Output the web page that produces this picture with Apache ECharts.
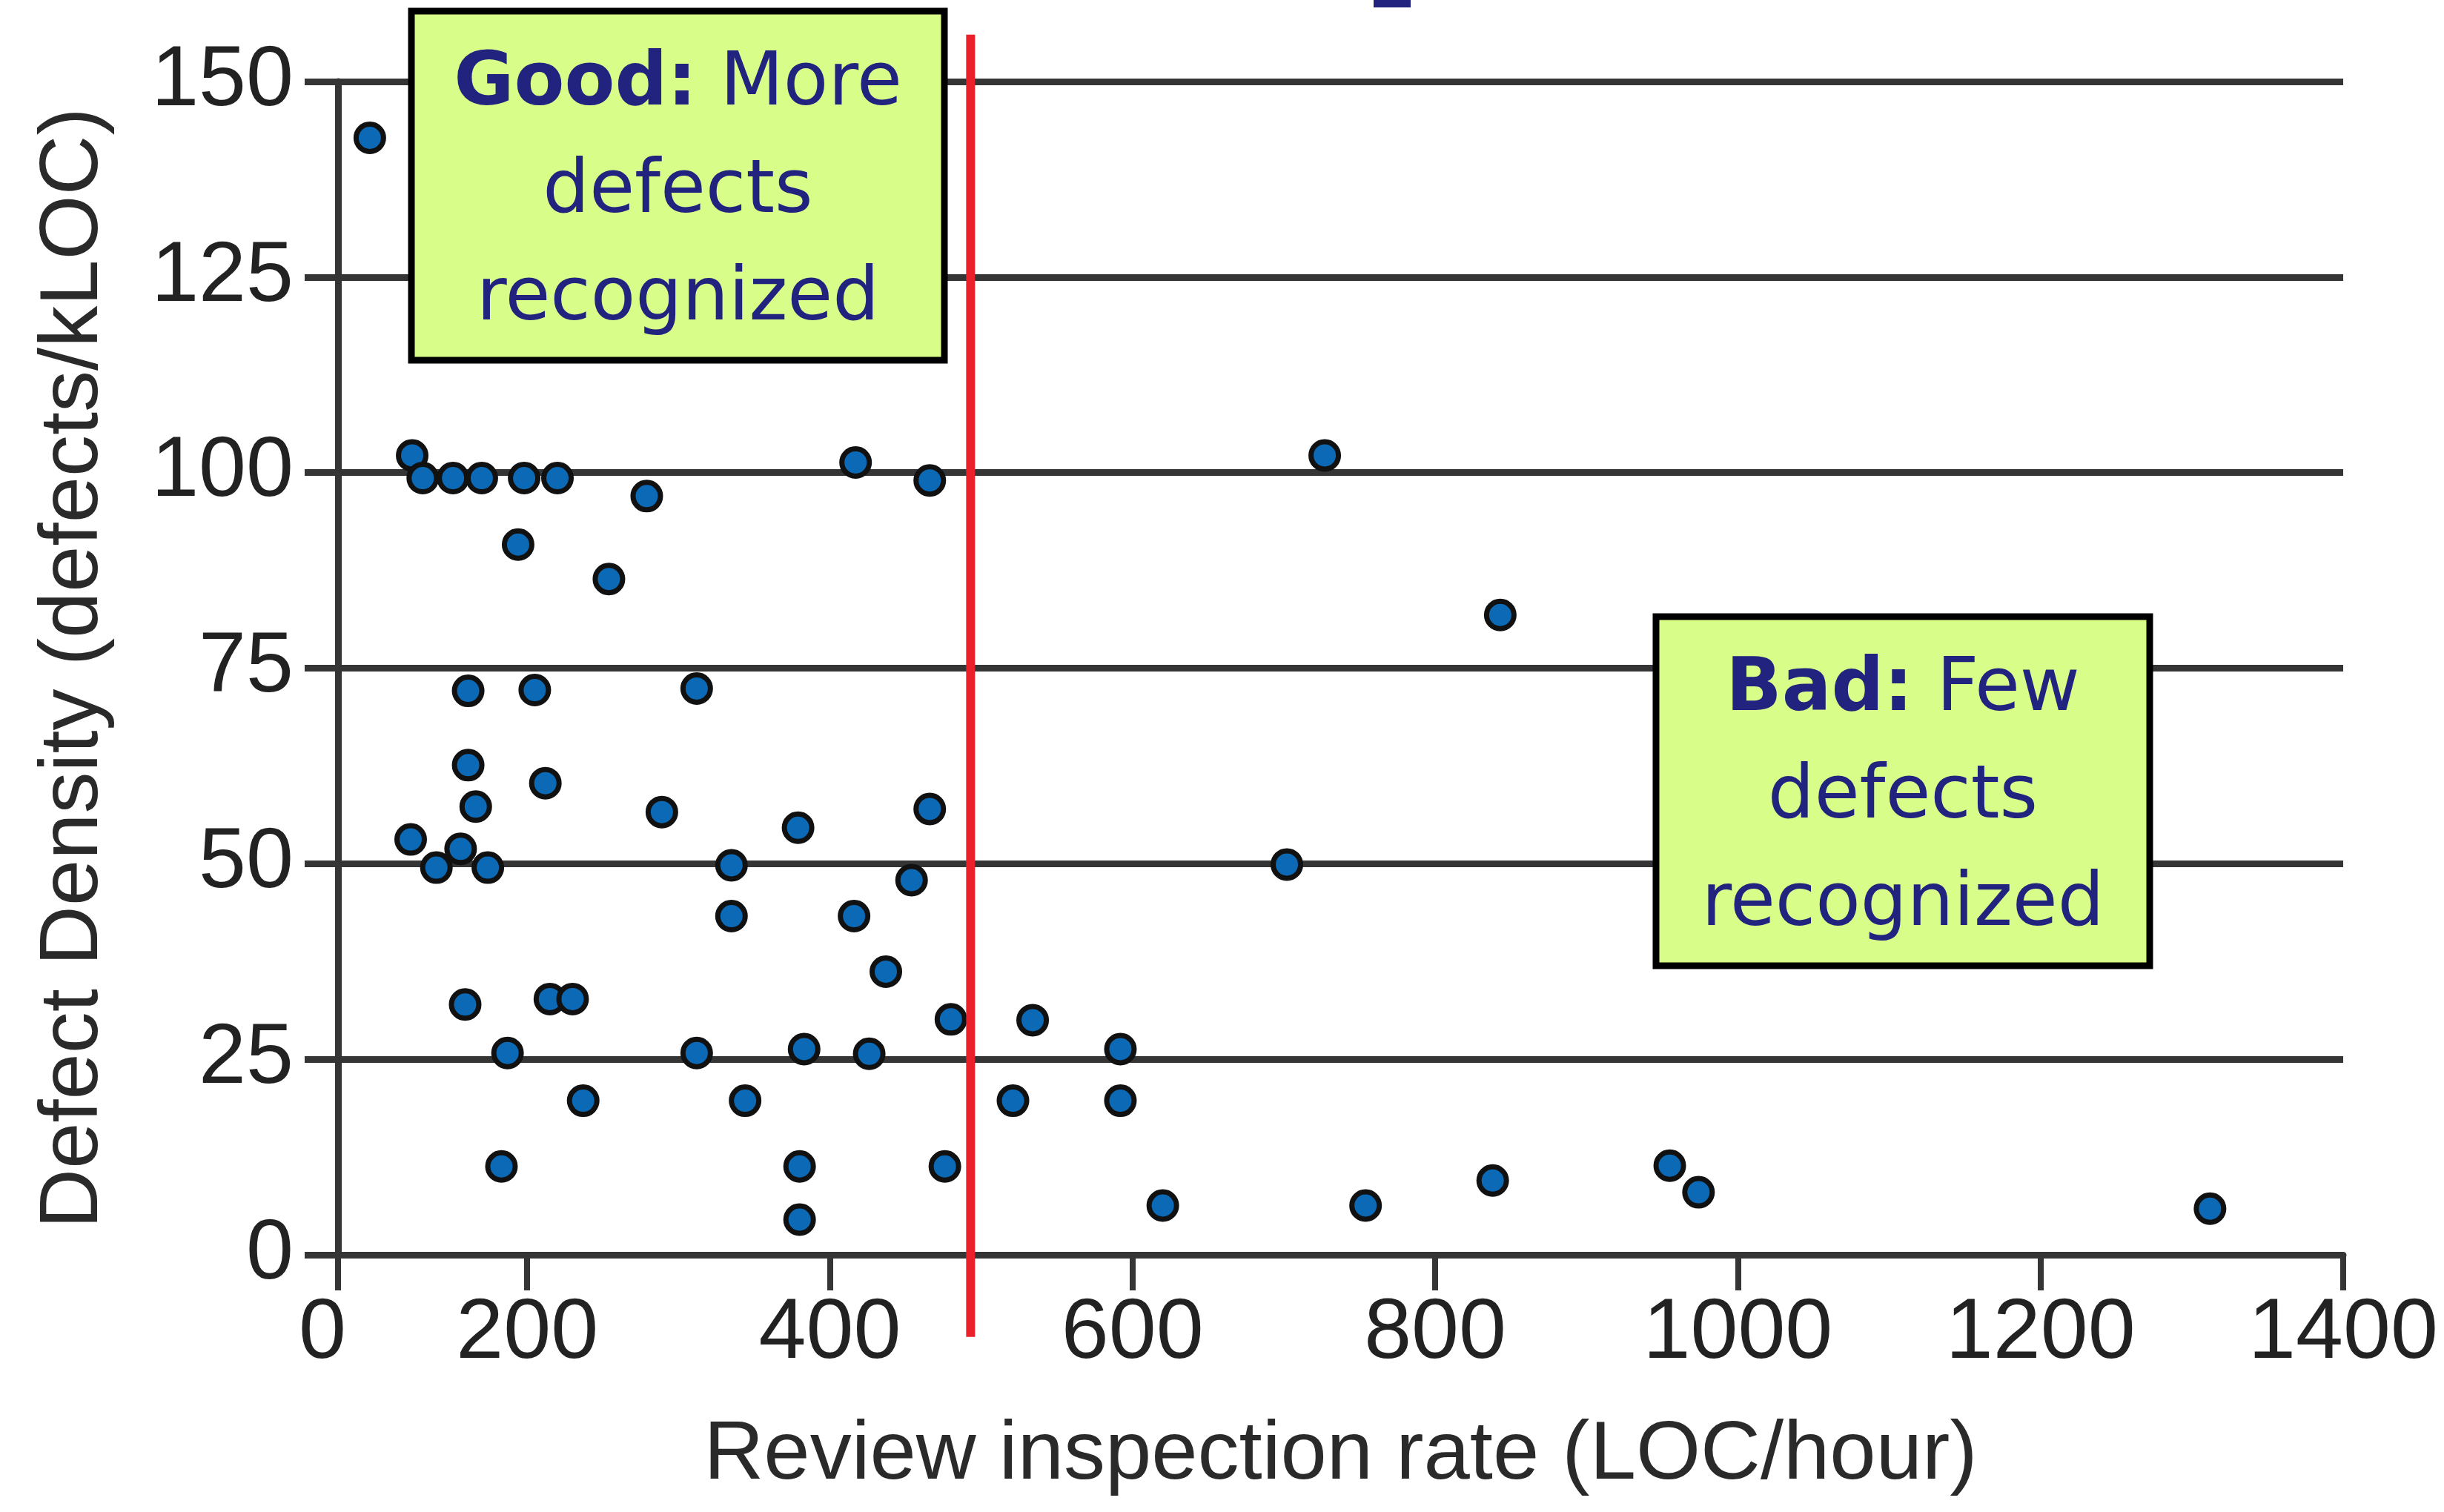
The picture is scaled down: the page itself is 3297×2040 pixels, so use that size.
<!DOCTYPE html>
<html>
<head>
<meta charset="utf-8">
<script src="https://cdn.jsdelivr.net/npm/echarts@6/dist/echarts.min.js"></script>
<style>
  html, body { margin: 0; padding: 0; background: #fff; }
  #chart { width: 3297px; height: 2040px; }
</style>
</head>
<body>
<div id="chart"></div>
<script>
// review rate (LOC/hour) vs defect density (defects/kLOC)
const rates = [
  96, 124, 131, 151, 170, 198, 220, 279, 417, 466,
  194, 254, 161, 205, 312, 161, 212, 166, 289, 379,
  466, 123, 140, 156, 174, 335, 454, 335, 416, 437,
  159, 215, 230, 480, 534, 187, 312, 383, 426, 237,
  344, 521, 183, 380, 476, 380, 702, 592, 592, 620,
  754, 838, 955, 974, 727, 843, 1312
]
const densities = [
  142.8, 102.2, 99.3, 99.3, 99.3, 99.3, 99.3, 97.0, 101.3, 99.0,
  90.8, 86.4, 72.1, 72.2, 72.4, 62.6, 60.3, 57.3, 56.6, 54.6,
  57.0, 53.1, 49.5, 51.9, 49.5, 49.8, 47.9, 43.3, 43.3, 36.2,
  32.0, 32.7, 32.7, 30.1, 30.0, 25.8, 25.8, 26.3, 25.7, 19.7,
  19.7, 19.7, 11.3, 11.3, 11.3, 4.5, 49.9, 26.3, 19.7, 6.3,
  6.3, 9.5, 11.4, 8.0, 102.2, 81.8, 5.9
]
// x axis starts a bit right of zero in the original but is labelled "0"
const xStart = 75
const xTicks = [75, 200, 400, 600, 800, 1000, 1200, 1400]
const cutoff = 493
const cutoffSpan = [156, -10.5]

const points = rates.map((r, i) => [r, densities[i]])

const myChart = echarts.init(document.getElementById('chart'))
const axisColor = '#353535'
const labelFont = { fontFamily: 'Liberation Sans', fontSize: 115, color: '#222' }

myChart.setOption({
  animation: false,
  grid: { left: 456, right: 136, top: 110, bottom: 347 },
  xAxis: {
    type: 'value',
    min: xStart,
    max: 1400,
    name: 'Review inspection rate (LOC/hour)',
    nameLocation: 'middle',
    nameGap: 215,
    nameTextStyle: { fontFamily: 'Liberation Sans', fontSize: 112, color: '#2a2a2a' },
    axisLine: { show: true, lineStyle: { color: axisColor, width: 9 } },
    axisTick: { show: true, length: 48, customValues: xTicks, lineStyle: { color: axisColor, width: 8 } },
    axisLabel: {
      ...labelFont,
      margin: 50,
      customValues: xTicks,
      // the "0" sits a little left of the axis line in the original
      formatter: v => (v === xStart ? '{z|0}' : String(v)),
      rich: { z: { ...labelFont, padding: [0, 42, 0, 0] } }
    },
    splitLine: { show: false }
  },
  yAxis: {
    type: 'value',
    min: 0,
    max: 150,
    interval: 25,
    name: 'Defect Density (defects/kLOC)',
    nameLocation: 'middle',
    nameGap: 300,
    nameTextStyle: { fontFamily: 'Liberation Sans', fontSize: 112, color: '#2a2a2a' },
    axisLine: { show: true, lineStyle: { color: axisColor, width: 9 } },
    axisTick: { show: true, length: 45, lineStyle: { color: axisColor, width: 9 } },
    axisLabel: { ...labelFont, margin: 60 },
    splitLine: { show: true, lineStyle: { color: axisColor, width: 9 } }
  },
  series: [
    {
      type: 'scatter',
      data: points,
      symbolSize: 37,
      itemStyle: { color: '#0b69b5', borderColor: '#111', borderWidth: 7, opacity: 1 },
      z: 5
    }
  ]
})

// red cutoff line and the two note boxes
const lineTop = myChart.convertToPixel({ xAxisIndex: 0, yAxisIndex: 0 }, [cutoff, cutoffSpan[0]])
const lineBottom = myChart.convertToPixel({ xAxisIndex: 0, yAxisIndex: 0 }, [cutoff, cutoffSpan[1]])
const navy = '#22227f'
const noteRich = {
  b: { fontFamily: 'DejaVu Sans', fontWeight: 'bold', fontSize: 99, fill: navy, lineHeight: 145 },
  n: { fontFamily: 'DejaVu Sans', fontSize: 99, fill: navy, lineHeight: 145 }
}
const note = (x1, y1, x2, y2, head, rest) => ({
  type: 'group',
  z: 20,
  children: [
    {
      type: 'rect',
      shape: { x: x1, y: y1, width: x2 - x1, height: y2 - y1 },
      style: { fill: '#d8fd88', stroke: '#000', lineWidth: 9 }
    },
    {
      type: 'text',
      x: (x1 + x2) / 2,
      y: (y1 + y2) / 2 + 10,
      style: {
        text: '{b|' + head + '}{n| ' + rest[0] + '}\n{n|' + rest[1] + '}\n{n|' + rest[2] + '}',
        rich: noteRich,
        fill: navy,
        align: 'center',
        verticalAlign: 'middle'
      }
    }
  ]
})

myChart.setOption({
  graphic: [
    {
      type: 'line',
      z: 10,
      shape: { x1: lineTop[0], y1: lineTop[1], x2: lineBottom[0], y2: lineBottom[1] },
      style: { stroke: '#e8212b', lineWidth: 12 }
    },
    note(555, 15, 1274, 486, 'Good:', ['More', 'defects', 'recognized']),
    note(2234, 832, 2900, 1303, 'Bad:', ['Few', 'defects', 'recognized']),
    { type: 'rect', shape: { x: 1853, y: 0, width: 50, height: 10 }, style: { fill: navy } }
  ]
})
</script>
</body>
</html>
